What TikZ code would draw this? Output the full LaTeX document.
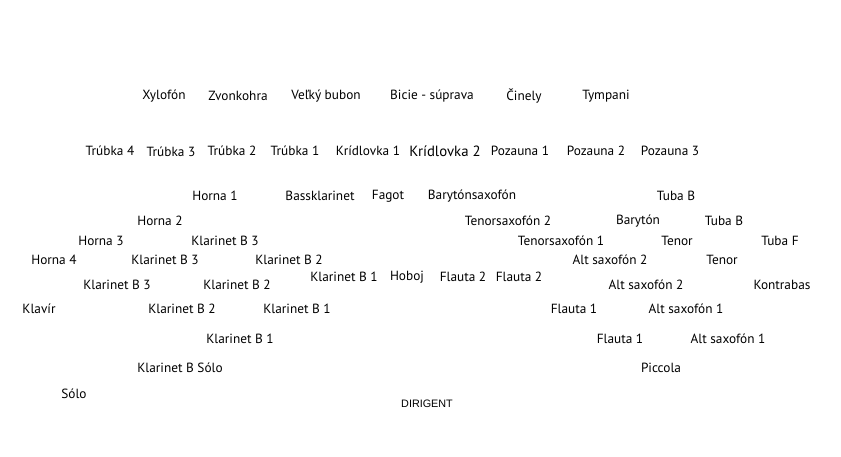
\documentclass[tikz,border=0pt]{standalone}
\usepackage{fontspec}
\setmainfont{PT Sans}
\newfontfamily\dirfont{Liberation Sans}
\begin{document}
\begin{tikzpicture}[x=1pt,y=-1pt,
  lbl/.style={inner sep=0pt,font=\fontsize{13.3}{15}\selectfont,text=black},
  big/.style={inner sep=0pt,font=\fontsize{14.8}{17}\selectfont,text=black},
  dir/.style={inner sep=0pt,font=\dirfont\fontsize{10.8}{12}\selectfont,text=black}]
\useasboundingbox[fill=white] (0,0) rectangle (841,457);
% row 1
\node[lbl] (xyl) at (164,96) {Xylofón};
\node[lbl] (zvo) at (238,96) {Zvonkohra};
\node[lbl] (vbb) at (326,96) {Veľký bubon};
\node[lbl] (bic) at (432,96) {Bicie - súprava};
\node[lbl] (cin) at (524,96) {Činely};
\node[lbl] (tym) at (606,96) {Tympani};
% row 2
\node[lbl] (tr4) at (110,151) {Trúbka 4};
\node[lbl] (tr3) at (171,152) {Trúbka 3};
\node[lbl] (tr2) at (232,151) {Trúbka 2};
\node[lbl] (tr1) at (295,151) {Trúbka 1};
\node[lbl] (kr1) at (368,151) {Krídlovka 1};
\node[big] (kr2) at (445,151) {Krídlovka 2};
\node[lbl] (po1) at (520,151) {Pozauna 1};
\node[lbl] (po2) at (596,151) {Pozauna 2};
\node[lbl] (po3) at (670,151) {Pozauna 3};
% row 3
\node[lbl] (ho1) at (215,196) {Horna 1};
\node[lbl] (bkl) at (320,196) {Bassklarinet};
\node[lbl] (fag) at (388,196) {Fagot};
\node[lbl] (bsx) at (472,196) {Barytónsaxofón};
\node[lbl] (tbb1) at (676,196) {Tuba B};
% row 4
\node[lbl] (ho2) at (160,221) {Horna 2};
\node[lbl] (ts2) at (508,221) {Tenorsaxofón 2};
\node[lbl] (bar) at (638,221) {Barytón};
\node[lbl] (tbb2) at (724,221) {Tuba B};
% row 5
\node[lbl] (ho3) at (101,241) {Horna 3};
\node[lbl] (kb3a) at (225,241) {Klarinet B 3};
\node[lbl] (ts1) at (561,241) {Tenorsaxofón 1};
\node[lbl] (ten1) at (677,241) {Tenor};
\node[lbl] (tbf) at (780,241) {Tuba F};
% row 6
\node[lbl] (ho4) at (54,260) {Horna 4};
\node[lbl] (kb3b) at (165,260) {Klarinet B 3};
\node[lbl] (kb2a) at (289,260) {Klarinet B 2};
\node[lbl] (as2a) at (610,260) {Alt saxofón 2};
\node[lbl] (ten2) at (722,260) {Tenor};
% row 7
\node[lbl] (kb1a) at (344,277) {Klarinet B 1};
\node[lbl] (hob) at (407,277) {Hoboj};
\node[lbl] (fl2a) at (463,277) {Flauta 2};
\node[lbl] (fl2b) at (519,277) {Flauta 2};
\node[lbl] (kb3c) at (117,285) {Klarinet B 3};
\node[lbl] (kb2b) at (237,285) {Klarinet B 2};
\node[lbl] (as2b) at (646,285) {Alt saxofón 2};
\node[lbl] (kon) at (782,285) {Kontrabas};
% row 8
\node[lbl] (kla) at (39,309) {Klavír};
\node[lbl] (kb2c) at (182,309) {Klarinet B 2};
\node[lbl] (kb1b) at (297,309) {Klarinet B 1};
\node[lbl] (fl1a) at (574,309) {Flauta 1};
\node[lbl] (as1a) at (686,309) {Alt saxofón 1};
% row 9
\node[lbl] (kb1c) at (240,339) {Klarinet B 1};
\node[lbl] (fl1b) at (620,339) {Flauta 1};
\node[lbl] (as1b) at (728,339) {Alt saxofón 1};
% row 10
\node[lbl] (kbs) at (180,368) {Klarinet B Sólo};
\node[lbl] (pic) at (661,368) {Piccola};
\node[lbl] (sol) at (74,394) {Sólo};
\node[dir] (dirig) at (427,404) {DIRIGENT};
\end{tikzpicture}
\end{document}
